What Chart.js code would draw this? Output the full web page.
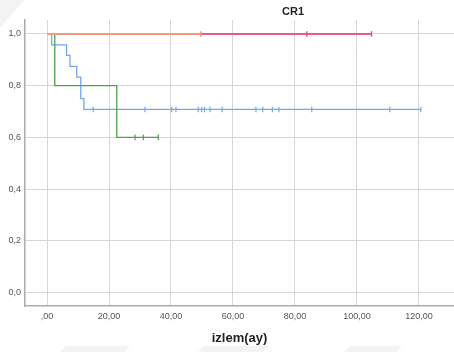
<!DOCTYPE html>
<html>
<head>
<meta charset="utf-8">
<script src="https://cdn.jsdelivr.net/npm/chart.js@4.4.1/dist/chart.umd.min.js"></script>
<style>
  html,body{margin:0;padding:0;background:#fff;}
  #wrap{width:454px;height:352px;position:relative;}
</style>
</head>
<body>
<div id="wrap"><canvas id="kmChart" width="454" height="352"></canvas></div>
<script>
// ---- veri: Kaplan-Meier eğrileri (zaman = ay, sağkalım oranı) ----
const blueTimes = [0, 1.5, 6.3, 7.4, 9.6, 10.9, 11.9, 120.6];
const blueSurv  = [1, 0.958, 0.917, 0.875, 0.833, 0.75, 0.708, 0.708];
const blueCens  = [14.9, 31.6, 40.2, 41.6, 48.8, 49.9, 50.8, 52.6, 56.5, 67.4, 69.6, 72.7, 74.8, 85.4, 110.6, 120.6];

const greenTimes = [0, 2.5, 22.5, 35.9];
const greenSurv  = [1, 0.8, 0.6, 0.6];
const greenCens  = [28.4, 31.1, 35.9];

const orangeTimes = [0, 49.6];
const orangeSurv  = [1, 1];
const orangeCens  = [49.6];

const redTimes = [0, 104.7];
const redSurv  = [1, 1];
const redCens  = [83.8, 104.7];

const xTicks = [0, 20, 40, 60, 80, 100, 120];
const yTicks = [0, 0.2, 0.4, 0.6, 0.8, 1.0];

const chartTitle = "CR1";
const xTitle = "izlem(ay)";

// eğri noktaları
function pts(t, s){ return t.map((x,i)=>({x:x, y:s[i]})); }
// sansür işaretleri eğrinin o andaki değerinde
function survAt(t, s, x){ let v=s[0]; for(let i=0;i<t.length;i++){ if(t[i]<=x) v=s[i]; } return v; }
function cens(t, s, c){ return c.map(x=>({x:x, y:survAt(t,s,x)})); }

function curve(label, t, s, color, w){
  return {label, data:pts(t,s), borderColor:color, borderWidth:w, stepped:'before', showLine:true, pointRadius:0, fill:false};
}
function marks(label, t, s, c, color, w){
  return {label, data:cens(t,s,c), borderColor:color, backgroundColor:color, showLine:false,
    pointStyle:'line', rotation:90, pointRadius:2.8, pointBorderWidth:w, pointHoverRadius:2.8};
}

const BLUE='#74a6ea', GREEN='#4fa04f', ORANGE='#f39a80', RED='#e65c82';

// arka plandaki soluk filigran şekilleri
const watermark={
  id:'watermark',
  beforeDraw(chart){
    const c=chart.ctx; c.save(); c.fillStyle='#f3f3f3';
    const polys=[
      [[0,0],[24,0],[0,28]],
      [[66,346],[130,346],[124,352],[60,352]],
      [[204,346],[268,346],[262,352],[198,352]],
      [[350,346],[402,346],[396,352],[344,352]]
    ];
    polys.forEach(p=>{ c.beginPath(); c.moveTo(p[0][0],p[0][1]); p.slice(1).forEach(q=>c.lineTo(q[0],q[1])); c.closePath(); c.fill(); });
    c.restore();
  }
};

// başlık grafiğin üstünde, sağa kaydırılmış
const titlePlugin={
  id:'titleText',
  afterDraw(chart){
    const c=chart.ctx; c.save();
    c.font='bold 11px "Liberation Sans", Arial, sans-serif';
    c.fillStyle='#222'; c.textAlign='center'; c.textBaseline='middle';
    c.fillText(chartTitle, 293, 12);
    c.restore();
  }
};

const ctx=document.getElementById('kmChart').getContext('2d');
new Chart(ctx,{
  type:'scatter',
  data:{datasets:[
    marks('orange-c', orangeTimes, orangeSurv, orangeCens, ORANGE, 1.5),
    curve('orange', orangeTimes, orangeSurv, ORANGE, 2),
    marks('red-c', redTimes, redSurv, redCens, RED, 1.5),
    curve('red', redTimes, redSurv, RED, 2),
    marks('green-c', greenTimes, greenSurv, greenCens, GREEN, 1.2),
    curve('green', greenTimes, greenSurv, GREEN, 1.3),
    marks('blue-c', blueTimes, blueSurv, blueCens, BLUE, 1.2),
    curve('blue', blueTimes, blueSurv, BLUE, 1.3)
  ]},
  options:{
    responsive:false, animation:false,
    layout:{autoPadding:false, padding:{top:20,right:0,left:0,bottom:0}},
    plugins:{legend:{display:false}, tooltip:{enabled:false}, title:{display:false}},
    scales:{
      x:{
        type:'linear', min:-7.1, max:131.3,
        afterBuildTicks:s=>{ s.ticks=xTicks.map(v=>({value:v})); },
        afterFit:s=>{ s.height=46; s.paddingLeft=0; s.paddingRight=0; },
        grid:{color:'#d6d6d6', lineWidth:1, drawTicks:false},
        border:{color:'#ababab', width:1.5},
        ticks:{padding:5, color:'#555', font:{size:9, family:'"Liberation Sans", Arial, sans-serif'},
          maxRotation:0,
          callback:v=>{ const s=v.toFixed(2).replace('.',','); return v===0 ? ',00' : s; }},
        title:{display:true, text:xTitle, color:'#222', padding:{top:0,bottom:6},
          font:{size:13, weight:'bold', family:'"Liberation Sans", Arial, sans-serif'}}
      },
      y:{
        type:'linear', min:-0.052, max:1.054,
        afterBuildTicks:s=>{ s.ticks=yTicks.map(v=>({value:v})); },
        afterFit:s=>{ s.width=25; s.paddingTop=0; s.paddingBottom=0; },
        grid:{color:'#d6d6d6', lineWidth:1, drawTicks:false},
        border:{color:'#ababab', width:1.5},
        ticks:{padding:4, color:'#555', font:{size:9, family:'"Liberation Sans", Arial, sans-serif'},
          callback:v=>v.toFixed(1).replace('.',',')}
      }
    }
  },
  plugins:[watermark, titlePlugin]
});
</script>
</body>
</html>
